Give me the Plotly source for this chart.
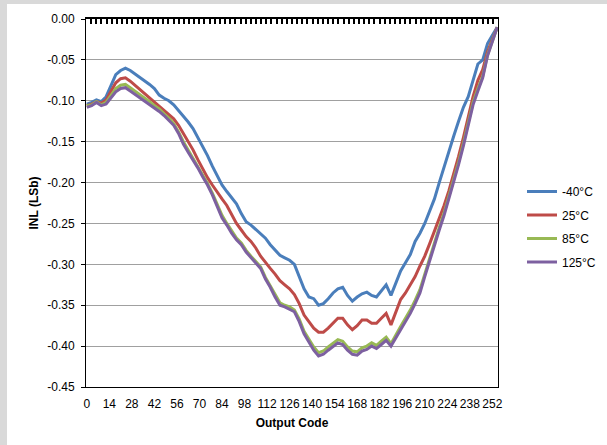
import plotly.graph_objects as go

codes = list(range(0, 256, 3))
x_tick_labels = [str(v) for v in range(0, 253, 14)]
y_tick_values = [0.0, -0.05, -0.10, -0.15, -0.20, -0.25, -0.30, -0.35, -0.40, -0.45]
y_tick_labels = ["0.00", "-0.05", "-0.10", "-0.15", "-0.20", "-0.25", "-0.30", "-0.35", "-0.40", "-0.45"]
series_names = ["-40°C", "25°C", "85°C", "125°C"]

inl_m40 = [
    -0.104, -0.102, -0.099, -0.101, -0.095, -0.082, -0.068, -0.063, -0.060, -0.063,
    -0.067, -0.072, -0.075, -0.080, -0.085, -0.093, -0.097, -0.100, -0.105, -0.112,
    -0.118, -0.126, -0.134, -0.145, -0.155, -0.167, -0.180, -0.192, -0.203, -0.211,
    -0.218, -0.226, -0.238, -0.248, -0.252, -0.257, -0.262, -0.268, -0.276, -0.283,
    -0.289, -0.292, -0.295, -0.300, -0.315, -0.330, -0.340, -0.342, -0.350, -0.348,
    -0.342, -0.335, -0.330, -0.328, -0.338, -0.345, -0.340, -0.336, -0.334, -0.338,
    -0.340, -0.332, -0.325, -0.338, -0.322, -0.308, -0.298, -0.288, -0.272, -0.262,
    -0.250, -0.236, -0.220, -0.200, -0.180, -0.162, -0.143, -0.125, -0.108, -0.095,
    -0.075, -0.055, -0.050, -0.030, -0.020, -0.010,
]
inl_25 = [
    -0.106, -0.104, -0.101, -0.103, -0.099, -0.088, -0.078, -0.073, -0.072, -0.076,
    -0.081, -0.086, -0.091, -0.096, -0.102, -0.107, -0.112, -0.117, -0.122, -0.130,
    -0.140, -0.150, -0.160, -0.172, -0.183, -0.194, -0.203, -0.212, -0.220, -0.228,
    -0.240, -0.250, -0.258, -0.266, -0.272, -0.280, -0.290, -0.298, -0.305, -0.312,
    -0.320, -0.325, -0.330, -0.337, -0.348, -0.362, -0.370, -0.378, -0.383, -0.383,
    -0.378, -0.372, -0.366, -0.366, -0.374, -0.380, -0.375, -0.368, -0.368, -0.372,
    -0.372, -0.366, -0.360, -0.374, -0.358, -0.343, -0.335, -0.325, -0.315, -0.302,
    -0.290, -0.275, -0.260, -0.245, -0.228, -0.210, -0.190, -0.168, -0.145, -0.120,
    -0.095, -0.075, -0.062, -0.040, -0.025, -0.010,
]
inl_85 = [
    -0.106, -0.105, -0.101, -0.105, -0.102, -0.093, -0.085, -0.081, -0.080, -0.084,
    -0.088, -0.093, -0.097, -0.101, -0.106, -0.110, -0.116, -0.121, -0.128, -0.138,
    -0.150, -0.160, -0.170, -0.180, -0.191, -0.201, -0.213, -0.226, -0.240, -0.250,
    -0.259, -0.268, -0.274, -0.283, -0.290, -0.296, -0.303, -0.316, -0.326, -0.337,
    -0.347, -0.350, -0.352, -0.356, -0.367, -0.382, -0.392, -0.401, -0.408, -0.406,
    -0.401, -0.396, -0.392, -0.394, -0.401, -0.406, -0.407, -0.402, -0.400, -0.396,
    -0.399, -0.394, -0.389, -0.397, -0.386, -0.376, -0.366, -0.356, -0.344, -0.331,
    -0.312, -0.292, -0.272, -0.255, -0.237, -0.217, -0.197, -0.175, -0.152, -0.125,
    -0.102, -0.085, -0.070, -0.044, -0.027, -0.010,
]
inl_125 = [
    -0.108, -0.106, -0.102, -0.106, -0.104, -0.096, -0.089, -0.085, -0.084, -0.088,
    -0.092, -0.096, -0.100, -0.104, -0.108, -0.113, -0.118, -0.124, -0.130, -0.140,
    -0.153, -0.163, -0.172, -0.182, -0.193, -0.203, -0.215, -0.228, -0.243, -0.252,
    -0.262, -0.270, -0.276, -0.285, -0.292, -0.298, -0.305, -0.318, -0.328, -0.340,
    -0.350, -0.352, -0.355, -0.358, -0.370, -0.385, -0.395, -0.405, -0.412, -0.410,
    -0.405, -0.400, -0.396, -0.398, -0.405, -0.410, -0.411, -0.406, -0.404, -0.400,
    -0.403, -0.398, -0.393, -0.400, -0.390, -0.380, -0.370, -0.360, -0.348, -0.335,
    -0.315, -0.295, -0.275, -0.258, -0.240, -0.220, -0.200, -0.178, -0.155, -0.128,
    -0.105, -0.088, -0.072, -0.045, -0.028, -0.010,
]

series_values = [inl_m40, inl_25, inl_85, inl_125]
colors = ["#4a7ebb", "#be4b48", "#98b954", "#7d60a0"]

FONT = "Liberation Sans, Arial, sans-serif"

fig = go.Figure()
for i, (name, vals, col) in enumerate(zip(series_names, series_values, colors)):
    fig.add_trace(go.Scatter(
        x=codes, y=vals, name=name, mode="lines",
        line=dict(color=col, width=3),
        legendgroup=f"g{i}",
    ))

# invisible trace on the top axis so the category-axis tick marks at y = 0 are drawn
fig.add_trace(go.Scatter(x=[codes[0]], y=[0], xaxis="x2", mode="lines",
                         showlegend=False, hoverinfo="skip", line=dict(width=0)))

W, H = 607, 445
L, R, T, B = 86, 109, 19, 58
pw, ph = W - L - R, H - T - B

fig.update_layout(
    width=W, height=H,
    margin=dict(l=L, r=R, t=T, b=B, autoexpand=False),
    paper_bgcolor="#d9d9d9",
    plot_bgcolor="white",
    font=dict(family=FONT, size=12, color="black"),
    showlegend=True,
    legend=dict(
        x=(522 - L) / pw, xanchor="left",
        y=(H - B - 177) / ph, yanchor="top",
        bgcolor="rgba(0,0,0,0)",
        font=dict(family=FONT, size=12, color="black"),
        tracegroupgap=4.5,
        traceorder="grouped",
    ),
    xaxis=dict(
        range=[-0.5, 255.5],
        automargin=False,
        tickmode="array",
        tickvals=[int(v) for v in x_tick_labels],
        ticktext=x_tick_labels,
        tickangle=0,
        ticks="",
        ticklabelstandoff=6,
        showgrid=False,
        zeroline=False,
        showline=True, linecolor="black", linewidth=1,
        tickfont=dict(family=FONT, size=12, color="black"),
        title=dict(text="<b>Output Code</b>", font=dict(family=FONT, size=12, color="black"), standoff=8),
    ),
    xaxis2=dict(
        overlaying="x", side="top", anchor="y",
        automargin=False,
        range=[-0.5, 255.5],
        tick0=-0.5, dtick=3.2,
        ticks="inside", ticklen=5, tickwidth=1.5, tickcolor="black",
        showticklabels=False, showgrid=False, zeroline=False,
        showline=True, linecolor="black", linewidth=2,
    ),
    yaxis=dict(
        range=[-0.45, 0],
        automargin=False,
        tickmode="array",
        tickvals=y_tick_values,
        ticktext=y_tick_labels,
        ticks="outside", ticklen=4, tickcolor="black",
        ticklabelstandoff=4,
        showgrid=True, gridcolor="#a0a0a0", gridwidth=1,
        zeroline=False,
        showline=True, linecolor="black", linewidth=1, mirror=True,
        tickfont=dict(family=FONT, size=12, color="black"),
        title=dict(text="<b>INL (LSb)</b>", font=dict(family=FONT, size=12, color="black"), standoff=6),
    ),
    shapes=[dict(
        type="rect", xref="paper", yref="paper", layer="below",
        x0=(7 - L) / pw, x1=(W + 5 - L) / pw,
        y0=(H - B - (H + 5)) / ph, y1=(H - B - 4) / ph,
        fillcolor="white", line=dict(width=0),
    )],
)

fig.write_html(
    "out.html",
    config={"displayModeBar": False},
    post_script="document.body.style.margin='0';document.body.style.overflow='hidden';",
)
